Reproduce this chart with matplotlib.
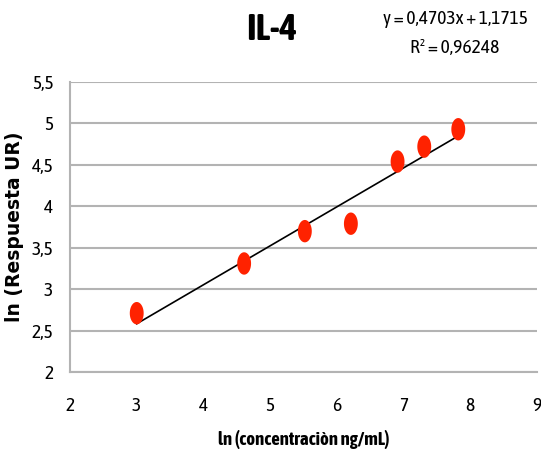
import matplotlib
matplotlib.use("Agg")
import matplotlib.pyplot as plt
import numpy as np
from matplotlib import font_manager
from matplotlib.path import Path

# ln of concentration (ng/mL) and ln of response
ln_conc = [3.00, 4.61, 5.52, 6.21, 6.91, 7.31, 7.82]
ln_resp = [2.71, 3.31, 3.70, 3.79, 4.54, 4.72, 4.93]

slope = 0.4703
intercept = 1.1715
r2_text = "0,96248"

x_ticks = [2, 3, 4, 5, 6, 7, 8, 9]
y_ticks = [2, 2.5, 3, 3.5, 4, 4.5, 5, 5.5]
y_tick_labels = ["2", "2,5", "3", "3,5", "4", "4,5", "5", "5,5"]

available = {f.name for f in font_manager.fontManager.ttflist}
narrow = next((n for n in ["Asap Condensed", "Sofia Sans Condensed", "Saira SemiCondensed"]
               if n in available), "DejaVu Sans")
wide = "DejaVu Sans"

fig = plt.figure(figsize=(5.41, 4.66), dpi=100)
ax = fig.add_axes([0.1294, 0.2017, 0.9926 - 0.1294, 0.824 - 0.2017])

# upright elliptical marker
t = np.linspace(0, 2 * np.pi, 60)
ellipse = Path(np.column_stack([0.62 * np.cos(t), np.sin(t)]), closed=True)

x_fit = np.array([min(ln_conc), max(ln_conc)])
ax.plot(x_fit, slope * x_fit + intercept, color="black", lw=1.2, zorder=3)
ax.scatter(ln_conc, ln_resp, marker=ellipse, s=260, color="#ff2200",
           edgecolors="none", zorder=4)

ax.set_xlim(2, 9)
ax.set_ylim(2, 5.5)
ax.set_xticks(x_ticks)
ax.set_xticklabels([str(v) for v in x_ticks], fontfamily=narrow, fontsize=14)
ax.set_yticks(y_ticks)
ax.set_yticklabels(y_tick_labels, fontfamily=narrow, fontsize=14)
ax.tick_params(length=0)
ax.tick_params(axis="x", pad=18)
ax.tick_params(axis="y", pad=12)
ax.grid(axis="y", color="#b3b3b3", lw=1.5)
ax.set_axisbelow(True)
for side in ["top", "right"]:
    ax.spines[side].set_visible(False)
for side in ["left", "bottom"]:
    ax.spines[side].set_color("#b3b3b3")
    ax.spines[side].set_linewidth(1.5)

ax.set_xlabel("ln (concentraciòn ng/mL)", fontfamily=narrow, fontweight="bold",
              fontsize=13.5, labelpad=11)
ax.set_ylabel("ln (Respuesta UR)", fontfamily=wide, fontweight="bold",
              fontsize=13.5)
ax.yaxis.set_label_coords(-0.098, 0.5)

fig.text(272 / 541, 1 - 30 / 466, "IL-4", ha="center", va="center",
         fontfamily=narrow, fontweight="bold", fontsize=27)
fig.text(455 / 541, 1 - 19 / 466, f"y = {slope:.4f}x + {intercept:.4f}".replace(".", ","),
         ha="center", va="center", fontfamily=[narrow, "DejaVu Sans"], fontsize=14)
fig.text(455 / 541, 1 - 48 / 466, f"R² = {r2_text}", ha="center", va="center",
         fontfamily=[narrow, "DejaVu Sans"], fontsize=14)

fig.savefig("out.png", dpi=100)
